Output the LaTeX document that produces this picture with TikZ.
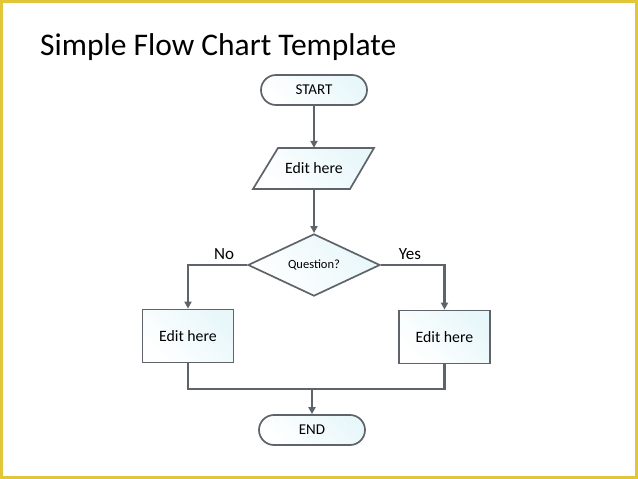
\documentclass[tikz,border=0pt]{standalone}
\usepackage{fontspec}
\setmainfont{Carlito}
\usetikzlibrary{shapes.geometric,shapes.misc,arrows.meta}
\definecolor{frame}{RGB}{226,198,58}
\definecolor{linegray}{RGB}{94,100,106}
\definecolor{tint}{RGB}{232,247,250}
\tikzset{
  boxfill/.style={left color=white,right color=tint,shading angle=135},
  stadium/.style={rounded rectangle,draw=linegray,line width=1.7pt,boxfill,
    minimum width=106pt,minimum height=30pt,inner sep=0pt,font=\fontsize{15}{18}\selectfont},
  procbox/.style={rectangle,draw=linegray,line width=1.7pt,boxfill,
    minimum width=91pt,minimum height=53pt,inner sep=0pt,font=\fontsize{15.8}{19}\selectfont},
  decision/.style={diamond,draw=linegray,line width=1.7pt,boxfill,
    minimum width=132pt,minimum height=58pt,inner sep=0pt,font=\fontsize{12.5}{15}\selectfont},
  conn/.style={draw=linegray,line width=2.1pt},
  arr/.style={conn,-{Triangle[length=7pt,width=7pt]}},
  lbl/.style={font=\fontsize{17}{20}\selectfont,inner sep=0pt}
}
\begin{document}
\begin{tikzpicture}[x=1pt,y=-1pt]
\useasboundingbox (0,0) rectangle (638,479);
\fill[frame] (0,0) rectangle (638,479);
\fill[white] (3,3) rectangle (635,476);
\node[anchor=base west,inner sep=0pt,font=\fontsize{31.5}{38}\selectfont] (title) at (40,55) {Simple Flow Chart Template};
\node[stadium] (start) at (314,90) {START};
% parallelogram
\path[boxfill,draw=linegray,line width=1.7pt] (278,148) -- (374,148) -- (350,189) -- (253,189) -- cycle;
\node[inner sep=0pt,minimum height=41pt,minimum width=20pt,font=\fontsize{15.8}{19}\selectfont] (input) at (314,168.5) {Edit here};
\node[decision] (q) at (314,265) {Question?};
\node[procbox] (left) at (188,336) {Edit here};
\node[procbox] (right) at (444.5,337) {Edit here};
\node[stadium] (end) at (312,430) {END};
\coordinate (merge) at (312,389);
\draw[arr] (start.south) -- (input.north);
\draw[arr] (input.south) -- (q.north);
\draw[arr] (q.west) -| (left.north);
\draw[arr] (q.east) -| (right.north);
\draw[conn] (left.south) |- (merge) -| (right.south);
\draw[arr] (merge) -- (end.north);
\node[lbl] (no) at (224,254) {No};
\node[lbl] (yes) at (410,254) {Yes};
\end{tikzpicture}
\end{document}
